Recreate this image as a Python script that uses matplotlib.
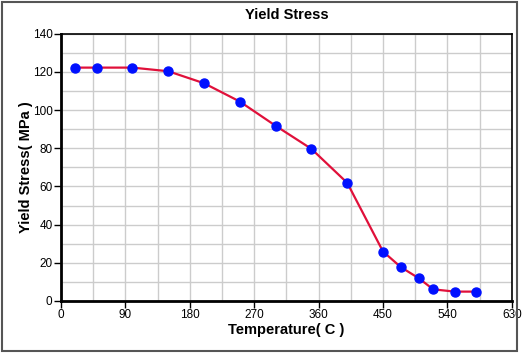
import matplotlib
matplotlib.use("Agg")
import matplotlib.pyplot as plt
from matplotlib.patches import Rectangle

# data
temperature = [20, 50, 100, 150, 200, 250, 300, 350, 400,
               450, 475, 500, 520, 550, 580]
yield_stress = [122.3, 122.3, 122.3, 120.4, 114.1, 104.5, 91.8, 79.7, 61.9,
                25.9, 17.7, 11.9, 6.1, 4.9, 4.9]

x_ticks = list(range(0, 631, 90))
y_ticks = list(range(0, 141, 20))

plt.rcParams["font.family"] = ["Liberation Sans", "DejaVu Sans"]

fig = plt.figure(figsize=(5.25, 3.6), dpi=100)
ax = fig.add_axes([0.116, 0.164, 0.859, 0.742])

# frame around the whole figure
fig.patches.append(
    Rectangle((0.003, 0.025), 0.982, 0.97, transform=fig.transFigure,
              fill=False, edgecolor="#555555", linewidth=1.5)
)

ax.plot(
    temperature,
    yield_stress,
    color="#e0103a",
    linewidth=1.6,
    marker="o",
    markersize=6.5,
    markerfacecolor="#0010ff",
    markeredgecolor="#0010ff",
    zorder=3
)

ax.set_xlim(0, 630)
ax.set_ylim(0, 140)
ax.set_xticks(x_ticks)
ax.set_yticks(y_ticks)
ax.set_xticks(range(45, 630, 90), minor=True)
ax.set_yticks(range(10, 140, 20), minor=True)

ax.grid(True, which="both", color="#cccccc", linewidth=1.0)
ax.set_axisbelow(True)

ax.tick_params(which="major", direction="out", length=5, width=1,
               labelsize=8.5, pad=1, colors="black")
ax.tick_params(which="minor", length=0)

for side in ["left", "bottom"]:
    ax.spines[side].set_linewidth(2)
for side in ["top", "right"]:
    ax.spines[side].set_linewidth(1.2)

ax.set_title("Yield Stress", fontsize=10.5, fontweight="bold", pad=11)
ax.set_xlabel("Temperature( C )", fontsize=10.5, fontweight="bold", labelpad=1)
ax.set_ylabel("Yield Stress( MPa )", fontsize=10.5, fontweight="bold")
ax.yaxis.set_label_coords(-0.062, 0.5)

fig.savefig("out.png", dpi=100)
plt.close(fig)
